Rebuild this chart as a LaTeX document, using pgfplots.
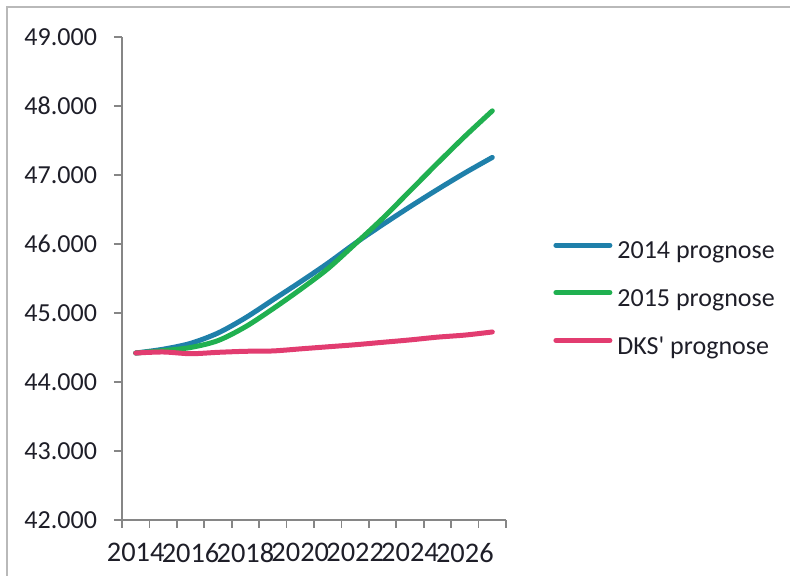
\documentclass[border=0pt]{standalone}
\usepackage{fontspec}
\setmainfont{Carlito}
\usepackage{pgfplots}
\usepackage{pgfplotstable}
\pgfplotsset{compat=1.18}

\definecolor{ser1}{RGB}{31,128,170}
\definecolor{ser2}{RGB}{32,176,80}
\definecolor{ser3}{RGB}{226,60,112}
\definecolor{axisgray}{RGB}{134,134,134}
\definecolor{txt}{RGB}{30,30,40}

% year index (0 = 2014), 2014 prognose, 2015 prognose, DKS' prognose
\pgfplotstableread{
x a b c
0 44420 44420 44420
1 44475 44455 44435
2 44560 44500 44410
3 44710 44600 44430
4 44930 44800 44445
5 45190 45060 44450
6 45450 45340 44480
7 45720 45640 44510
8 46010 46000 44540
9 46280 46370 44575
10 46540 46770 44610
11 46790 47170 44650
12 47030 47560 44680
13 47255 47930 44725
}\data

\begin{document}
\fontsize{13}{15.6}\selectfont
\begin{tikzpicture}
\path[use as bounding box] (0pt,0pt) rectangle (395pt,288pt);
\draw[gray!55, line width=0.6pt] (3.5pt,0pt) -- (3.5pt,284.5pt) -- (395pt,284.5pt);
\begin{axis}[
  at={(61pt,28pt)}, anchor=south west,
  scale only axis, width=192pt, height=241.5pt,
  axis lines*=left,
  axis line style={draw=axisgray, line width=0.8pt},
  xmin=-0.5, xmax=13.5, ymin=42000, ymax=49000,
  xtick={0,2,...,12},
  xticklabels={2014,2016,2018,2020,2022,2024,2026},
  major x tick style={draw=none},
  minor xtick={-0.5,0.5,...,13.5},
  ytick={42000,43000,...,49000},
  tick align=outside,
  major tick length=4pt, minor tick length=4pt,
  tick style={draw=axisgray, line width=0.8pt},
  scaled y ticks=false,
  /pgf/number format/.cd, fixed, 1000 sep={.}, assume math mode=true,
  /pgfplots/.cd,
  ticklabel style={font=\fontsize{13}{15.6}\selectfont, text=txt},
  yticklabel style={xshift=-4pt},
  xticklabel style={yshift=-3pt, font=\fontsize{14.2}{16}\selectfont},
  clip=false,
  legend style={at={(1.1224,0.4555)}, anchor=west, draw=none, fill=none,
    inner sep=0pt, row sep=13.3pt, column sep=2.5pt,
    font=\fontsize{13}{15.6}\selectfont, text=txt,
    nodes={inner sep=0pt}},
  legend cell align=left,
  legend image code/.code={\draw[#1, line width=2.5pt, line cap=round] (0pt,3.5pt) -- (27pt,3.5pt);},
]
\addplot[ser1, line width=2.5pt, smooth, line cap=round] table[x=x, y=a] {\data};
\addlegendentry{2014 prognose}
\addplot[ser2, line width=2.5pt, smooth, line cap=round] table[x=x, y=b] {\data};
\addlegendentry{2015 prognose}
\addplot[ser3, line width=2.5pt, smooth, line cap=round] table[x=x, y=c] {\data};
\addlegendentry{DKS\textquotesingle{} prognose}
\end{axis}
\end{tikzpicture}
\end{document}
